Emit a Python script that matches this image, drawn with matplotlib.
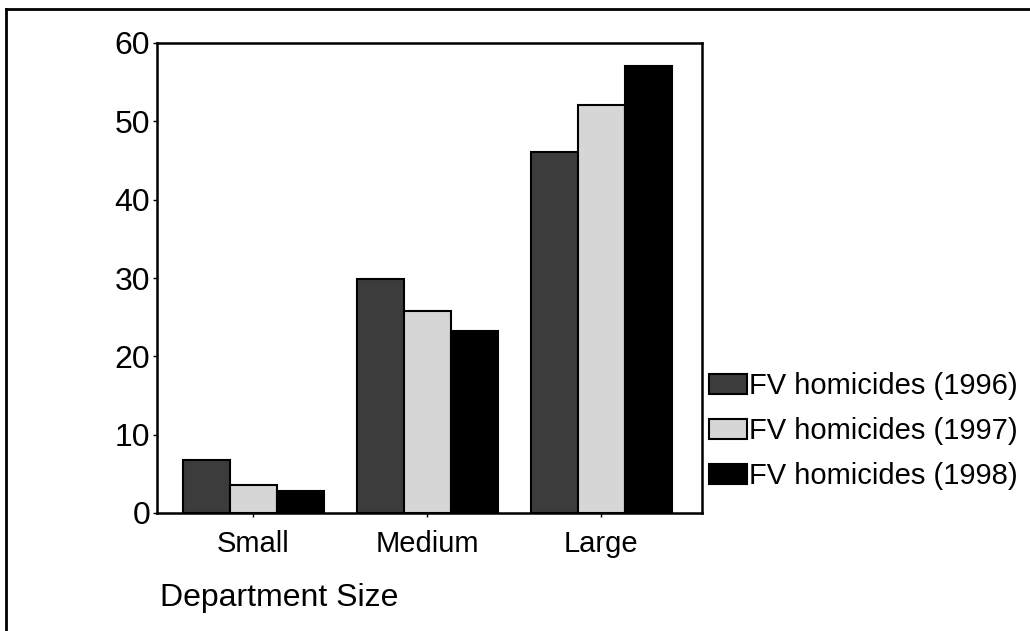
import matplotlib
matplotlib.use("Agg")
import matplotlib.pyplot as plt
import numpy as np
from matplotlib.lines import Line2D

categories = ["Small", "Medium", "Large"]
series_names = ["FV homicides (1996)", "FV homicides (1997)", "FV homicides (1998)"]
fv_1996 = [6.8, 29.9, 46.1]
fv_1997 = [3.6, 25.8, 52.1]
fv_1998 = [2.8, 23.2, 57.1]
y_ticks = [0, 10, 20, 30, 40, 50, 60]
x_title = "Department Size"

colors = ["#3c3c3c", "#d6d6d6", "#000000"]

plt.rcParams['font.family'] = ['Liberation Sans', 'DejaVu Sans']

fig = plt.figure(figsize=(10.30, 6.31), dpi=100)
ax = fig.add_axes([157/1030, 1-513/631, (702-157)/1030, (513-43)/631])

x = np.arange(len(categories))
w = 0.27
for i, (vals, name) in enumerate(zip([fv_1996, fv_1997, fv_1998], series_names)):
    ax.bar(x + (i-1)*w, vals, width=w, color=colors[i], edgecolor="black",
           linewidth=1.5, label=name)

ax.set_xlim(-0.552, 2.58)
ax.set_ylim(0, 60)
ax.set_yticks(y_ticks)
ax.set_yticklabels([str(t) for t in y_ticks], fontsize=23)
ax.set_xticks(x)
ax.set_xticklabels(categories, fontsize=21)
ax.tick_params(axis='y', length=3, width=1, pad=2)
ax.tick_params(axis='x', length=3, width=1, pad=9)
for s in ax.spines.values():
    s.set_linewidth(1.8)

leg = ax.legend(loc='center left', bbox_to_anchor=(709/1030, 1-431/631),
                bbox_transform=fig.transFigure, frameon=False, fontsize=21,
                handlelength=1.3, handleheight=0.7, handletextpad=0.08,
                labelspacing=0.58, borderpad=0, borderaxespad=0)

fig.text(160/1030, 1-598/631, x_title, fontsize=23, ha='left', va='center')

# outer frame lines (top and left)
fig.add_artist(Line2D([6/1030, 1.0], [1-9/631, 1-9/631], transform=fig.transFigure,
                      color='black', linewidth=2))
fig.add_artist(Line2D([6/1030, 6/1030], [0, 1-9/631], transform=fig.transFigure,
                      color='black', linewidth=2))

fig.savefig("out.png", dpi=100)
